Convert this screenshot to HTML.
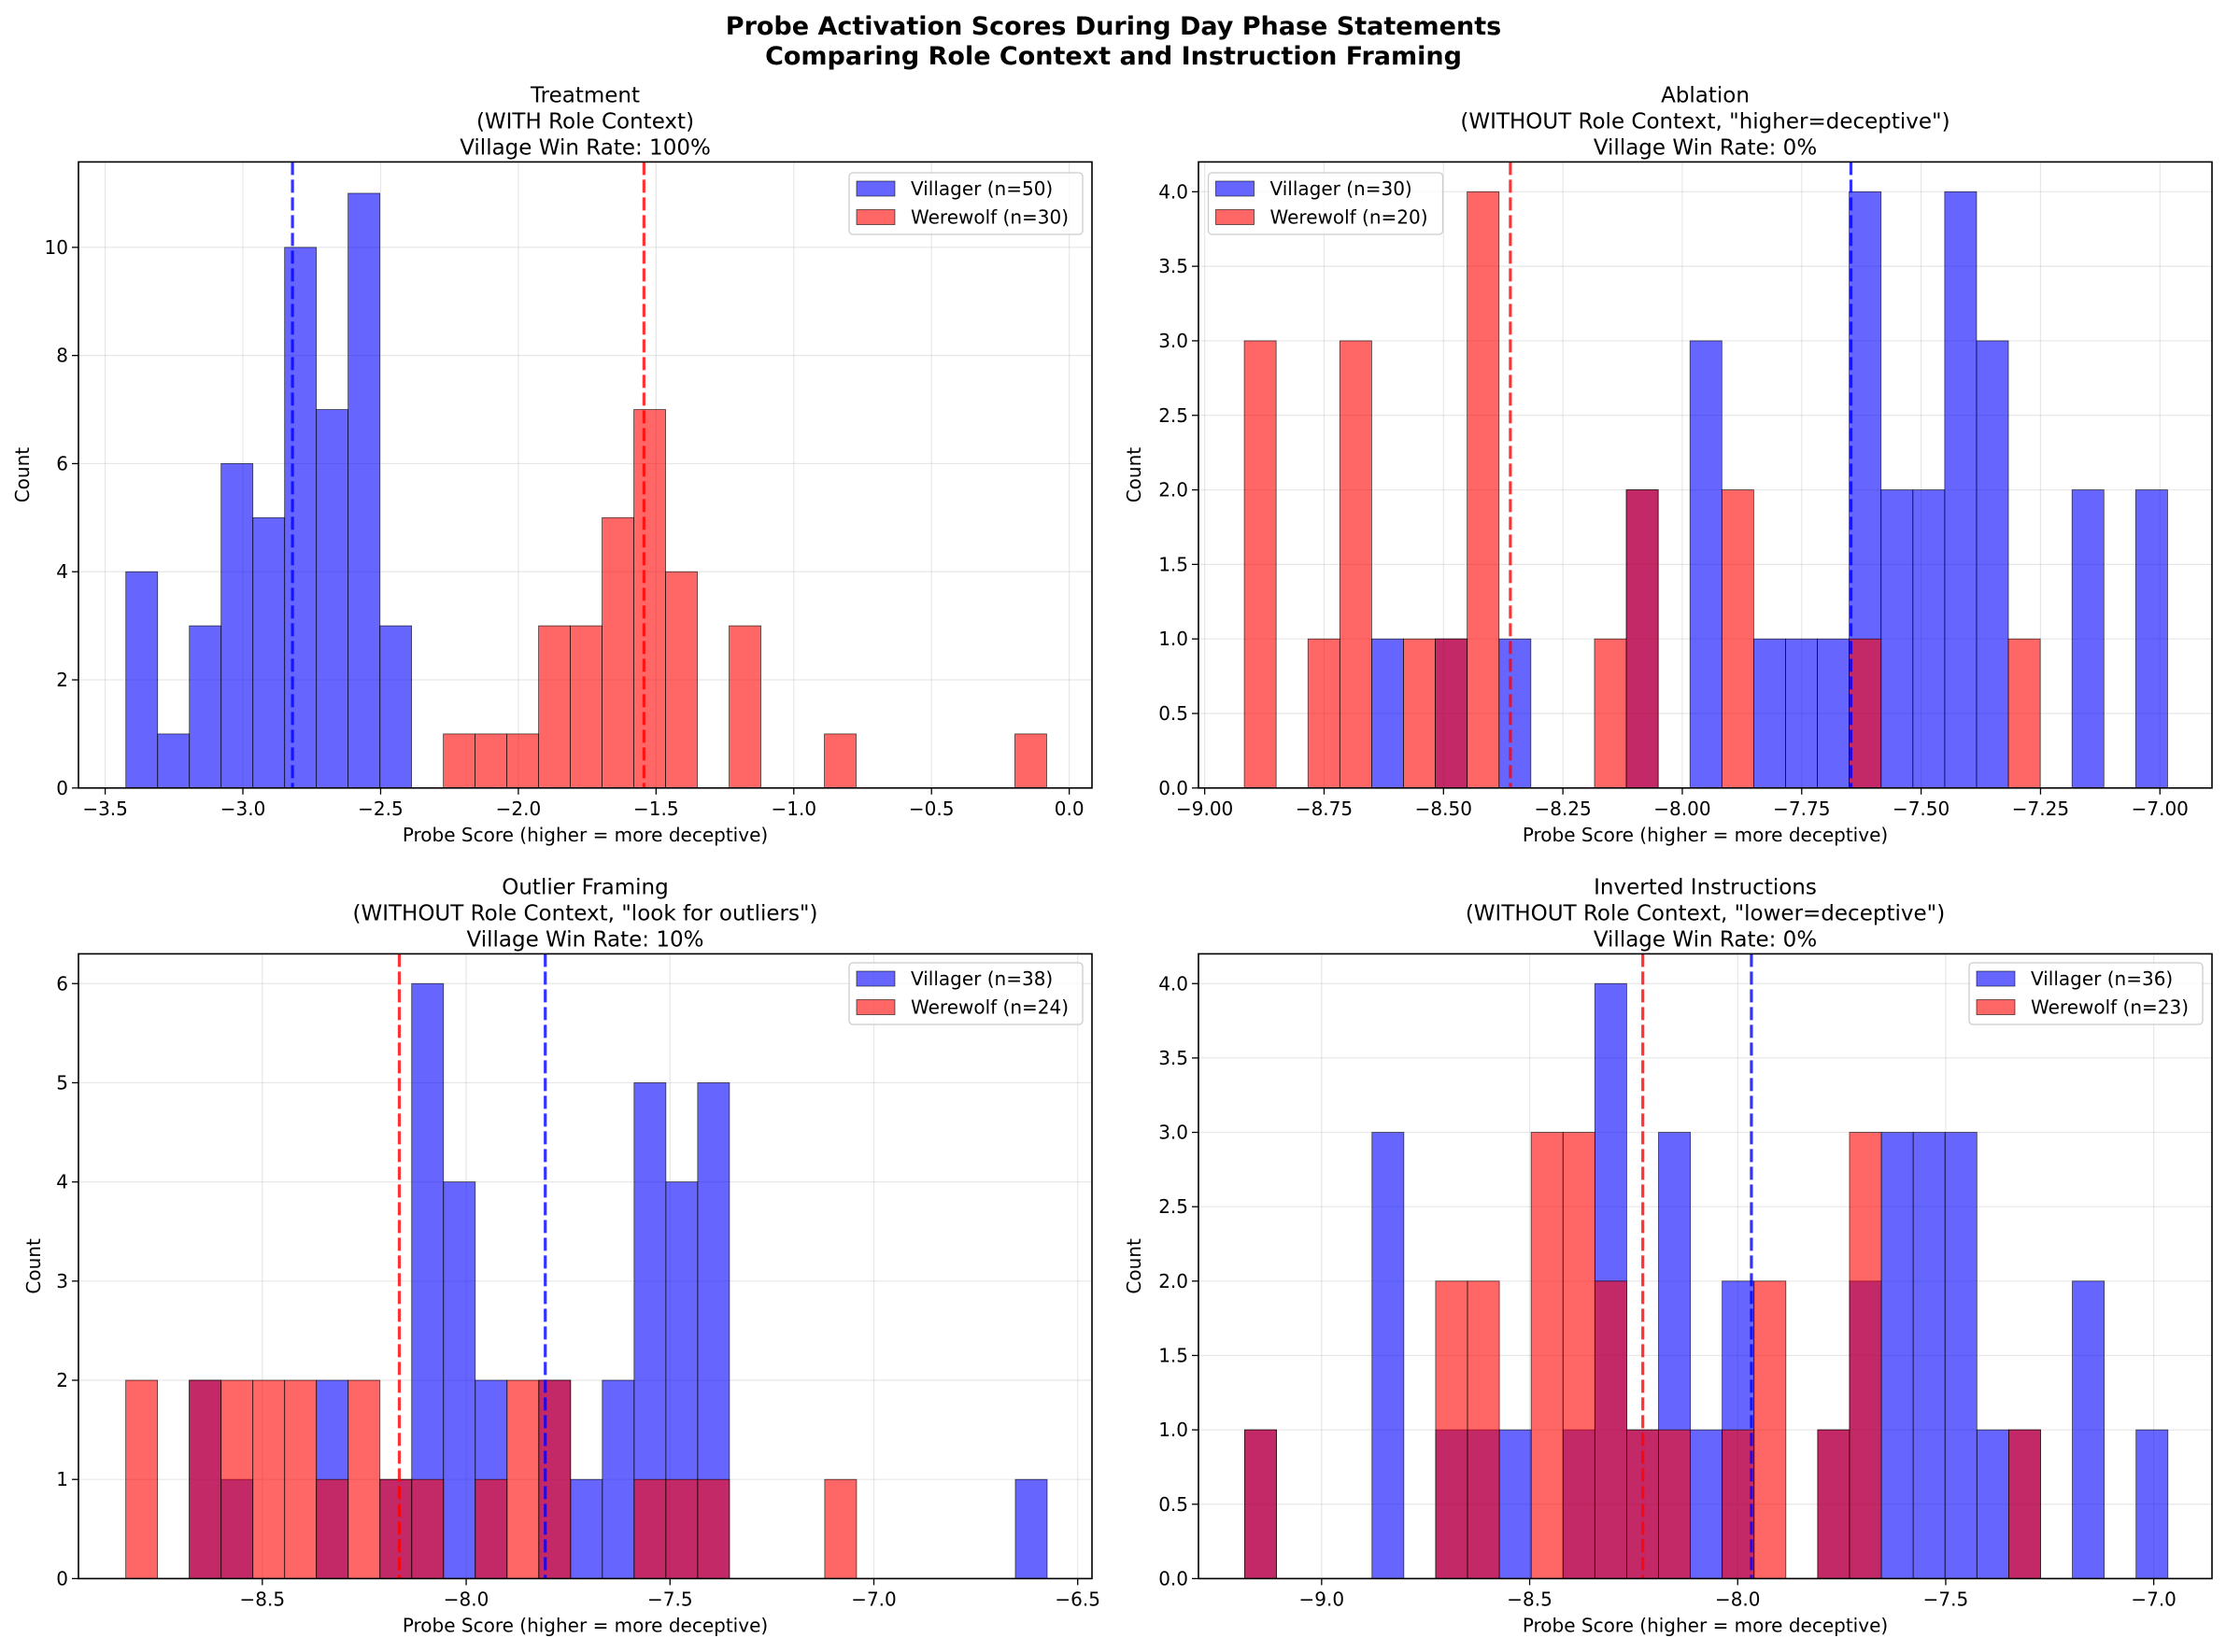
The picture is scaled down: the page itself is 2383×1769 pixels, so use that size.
<!DOCTYPE html>
<html><head><meta charset="utf-8">
<style>
html,body{margin:0;padding:0;background:#fff;}
svg{display:block;font-family:"DejaVu Sans","Liberation Sans",sans-serif;}
</style></head>
<body>
<svg id="fig" width="2383" height="1769" viewBox="0 0 2383 1769" xmlns="http://www.w3.org/2000/svg">
<rect width="2383" height="1769" fill="#fff"/>
<text x="1192" y="37" text-anchor="middle" font-size="27" font-weight="bold">Probe Activation Scores During Day Phase Statements</text>
<text x="1192" y="69" text-anchor="middle" font-size="27" font-weight="bold">Comparing Role Context and Instruction Framing</text>
</svg>
<script>
// ---- Panel data ----
const p1Villager = [4,1,3,6,5,10,7,11,3,0,0,0,0,0,0,0,0,0,0,0,0,0,0,0,0,0,0,0,0];
const p1Werewolf = [0,0,0,0,0,0,0,0,0,0,1,1,1,3,3,5,7,4,0,3,0,0,1,0,0,0,0,0,1];
const p1BinRange = [-3.425, -0.082];
const p1Means = [-2.82, -1.544];
const p1XTicks = [-3.5,-3.0,-2.5,-2.0,-1.5,-1.0,-0.5,0.0];
const p1YTicks = [0,2,4,6,8,10];

const p2Villager = [0,0,0,0,1,0,1,0,1,0,0,0,2,0,3,0,1,1,1,4,2,2,4,3,0,0,2,0,2];
const p2Werewolf = [3,0,1,3,0,1,1,4,0,0,0,1,2,0,0,2,0,0,0,1,0,0,0,0,1,0,0,0,0];
const p2BinRange = [-8.917, -6.984];
const p2Means = [-7.647, -8.360];
const p2XTicks = [-9.00,-8.75,-8.50,-8.25,-8.00,-7.75,-7.50,-7.25,-7.00];
const p2YTicks = [0,0.5,1.0,1.5,2.0,2.5,3.0,3.5,4.0];

const p3Villager = [0,0,2,1,0,0,2,0,1,6,4,2,0,2,1,2,5,4,5,0,0,0,0,0,0,0,0,0,1];
const p3Werewolf = [2,0,2,2,2,2,1,2,1,1,0,1,2,2,0,0,1,1,1,0,0,0,1,0,0,0,0,0,0];
const p3BinRange = [-8.835, -6.575];
const p3Means = [-7.806, -8.164];
const p3XTicks = [-8.5,-8.0,-7.5,-7.0,-6.5];
const p3YTicks = [0,1,2,3,4,5,6];

const p4Villager = [1,0,0,0,3,0,1,1,1,0,1,4,1,3,1,2,0,0,1,2,3,3,3,1,1,0,2,0,1];
const p4Werewolf = [1,0,0,0,0,0,2,2,0,3,3,2,1,1,0,1,2,0,1,3,0,0,0,0,1,0,0,0,0];
const p4BinRange = [-9.185, -6.966];
const p4Means = [-7.967, -8.228];
const p4XTicks = [-9.0,-8.5,-8.0,-7.5,-7.0];
const p4YTicks = [0,0.5,1.0,1.5,2.0,2.5,3.0,3.5,4.0];

const NS = "http://www.w3.org/2000/svg";
const svg = document.getElementById('fig');
function mk(tag, attrs, parent){
  const e = document.createElementNS(NS, tag);
  for (const k in attrs) e.setAttribute(k, attrs[k]);
  (parent||svg).appendChild(e);
  return e;
}
function fmt(v, dec){ return (v<0?"\u2212":"") + Math.abs(v).toFixed(dec); }

function panel(cfg){
  const g = mk('g', {});
  
  
  const L=cfg.box[0], T=cfg.box[1], R=cfg.box[2], B=cfg.box[3];
  const sx = v => L + (v - cfg.xlim[0])/(cfg.xlim[1]-cfg.xlim[0])*(R-L);
  const sy = v => B - v/cfg.ymax*(B-T);
  cfg.xticks.forEach(t=>{
    const ln = mk('line',{x1:sx(t),x2:sx(t),y1:T,y2:B,stroke:'#b0b0b0','stroke-opacity':0.3,'stroke-width':1.2},g);
    
    
  });
  cfg.yticks.forEach(t=>{
    const ln = mk('line',{x1:L,x2:R,y1:sy(t),y2:sy(t),stroke:'#b0b0b0','stroke-opacity':0.3,'stroke-width':1.2},g);
    
    
  });
  const n = cfg.vil.length;
  const w = (cfg.range[1]-cfg.range[0])/n;
  const series = [[cfg.vil,'#0000ff','villager-bar'],[cfg.wer,'#ff0000','werewolf-bar']];
  series.forEach(s=>{
    s[0].forEach((c,i)=>{
      if(!c) return;
      const x0 = sx(cfg.range[0]+i*w), x1 = sx(cfg.range[0]+(i+1)*w);
      const r = mk('rect',{x:x0,y:sy(c),width:x1-x0,height:sy(0)-sy(c),fill:s[1],'fill-opacity':0.6,stroke:'#000','stroke-opacity':0.7,'stroke-width':0.8},g);
      
      
    });
  });
  [[cfg.means[0],'#0000ff','villager-mean-line'],[cfg.means[1],'#ff0000','werewolf-mean-line']].forEach(m=>{
    const ln = mk('line',{x1:sx(m[0]),x2:sx(m[0]),y1:T,y2:B,stroke:m[1],'stroke-opacity':0.8,'stroke-width':3.2,'stroke-dasharray':'14,5'},g);
    
    
  });
  const fr = mk('rect',{x:L,y:T,width:R-L,height:B-T,fill:'none',stroke:'#000','stroke-width':1.6},g);
  
  
  cfg.xticks.forEach(t=>{
    mk('line',{x1:sx(t),x2:sx(t),y1:B,y2:B+7,stroke:'#000','stroke-width':1.3},g);
    const tx = mk('text',{x:sx(t),y:B+29,'text-anchor':'middle','font-size':20},g);
    
    
    tx.textContent = fmt(t, cfg.xdec);
  });
  cfg.yticks.forEach(t=>{
    mk('line',{x1:L-7,x2:L,y1:sy(t),y2:sy(t),stroke:'#000','stroke-width':1.3},g);
    const tx = mk('text',{x:L-11,y:sy(t)+7,'text-anchor':'end','font-size':20},g);
    
    
    tx.textContent = fmt(t, cfg.ydec);
  });
  const xl = mk('text',{x:(L+R)/2,y:B+57,'text-anchor':'middle','font-size':20},g);
  
  
  xl.textContent = 'Probe Score (higher = more deceptive)';
  const ylx = cfg.ylabelX;
  const yl = mk('text',{x:ylx,y:(T+B)/2,'text-anchor':'middle','font-size':20,transform:'rotate(-90 '+ylx+' '+(T+B)/2+')'},g);
  
  
  yl.textContent = 'Count';
  cfg.title.forEach((line,i)=>{
    const t = mk('text',{x:(L+R)/2,y:T-64+i*28,'text-anchor':'middle','font-size':23},g);
    
    
    t.textContent = line;
  });
  const lx = cfg.legend[0], ly = cfg.legend[1], lw = cfg.legend[2];
  const lg = mk('g',{},g);
  
  
  mk('rect',{x:lx,y:ly,width:lw,height:66,rx:4,fill:'#fff','fill-opacity':0.8,stroke:'#ccc','stroke-width':1.3},lg);
  [[cfg.labels[0],'#0000ff'],[cfg.labels[1],'#ff0000']].forEach((e,i)=>{
    const yy = ly+17+i*30.5;
    const sw = mk('rect',{x:lx+8,y:yy-8,width:41,height:16,fill:e[1],'fill-opacity':0.6,stroke:'#000','stroke-opacity':0.7,'stroke-width':0.8},lg);
    
    
    const t = mk('text',{x:lx+66,y:yy+7,'font-size':20},lg);
    
    
    t.textContent = e[0];
  });
}

panel({name:'treatment-panel',box:[84,173.4,1169,843.8],xlim:[-3.597,0.0826],ymax:11.58,
  vil:p1Villager,wer:p1Werewolf,range:p1BinRange,means:p1Means,xticks:p1XTicks,yticks:p1YTicks,xdec:1,ydec:0,
  title:['Treatment','(WITH Role Context)','Village Win Rate: 100%'],legend:[909,185,250],
  labels:['Villager (n=50)','Werewolf (n=30)'],ylabelX:31});
panel({name:'ablation-panel',box:[1283,173.4,2368,843.8],xlim:[-9.013,-6.891],ymax:4.2,
  vil:p2Villager,wer:p2Werewolf,range:p2BinRange,means:p2Means,xticks:p2XTicks,yticks:p2YTicks,xdec:2,ydec:1,
  title:['Ablation','(WITHOUT Role Context, "higher=deceptive")','Village Win Rate: 0%'],legend:[1293.5,185,251],
  labels:['Villager (n=30)','Werewolf (n=20)'],ylabelX:1221});
panel({name:'outlier-framing-panel',box:[84,1021.4,1169,1690.4],xlim:[-8.951,-6.465],ymax:6.30,
  vil:p3Villager,wer:p3Werewolf,range:p3BinRange,means:p3Means,xticks:p3XTicks,yticks:p3YTicks,xdec:1,ydec:0,
  title:['Outlier Framing','(WITHOUT Role Context, "look for outliers")','Village Win Rate: 10%'],legend:[909,1031,250],
  labels:['Villager (n=38)','Werewolf (n=24)'],ylabelX:43});
panel({name:'inverted-instructions-panel',box:[1283,1021.4,2368,1690.4],xlim:[-9.296,-6.860],ymax:4.2,
  vil:p4Villager,wer:p4Werewolf,range:p4BinRange,means:p4Means,xticks:p4XTicks,yticks:p4YTicks,xdec:1,ydec:1,
  title:['Inverted Instructions','(WITHOUT Role Context, "lower=deceptive")','Village Win Rate: 0%'],legend:[2108,1031,250],
  labels:['Villager (n=36)','Werewolf (n=23)'],ylabelX:1221});
</script>
</body></html>
